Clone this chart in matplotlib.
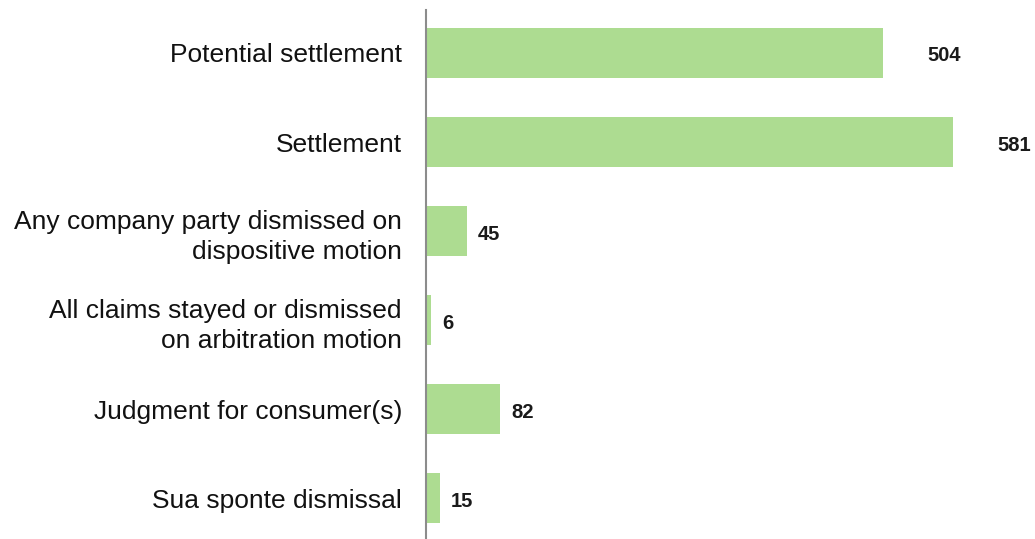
import matplotlib.pyplot as plt

plt.rcParams['font.family'] = ['Liberation Sans', 'DejaVu Sans']

kategorije = ['Potential settlement',
              'Settlement',
              'Any company party dismissed on\ndispositive motion',
              'All claims stayed or dismissed\non arbitration motion',
              'Judgment for consumer(s)',
              'Sua sponte dismissal']
vrijednosti = [504, 581, 45, 6, 82, 15]

fig = plt.figure(figsize=(10.35, 5.39), dpi=100)
ax = fig.add_axes([426/1035, 0, 609/1035, 529/539])

y = range(len(kategorije))
ax.barh(y, vrijednosti, height=0.56, color='#addc91', zorder=2)

ax.set_xlim(0, 609/0.907)
ax.set_ylim(5.46, -0.483)

for i, v in enumerate(vrijednosti):
    pomak = 44 if v > 300 else 11
    ax.annotate(str(v), xy=(v, i), xytext=(pomak, -3), textcoords='offset pixels',
                ha='left', va='center', fontsize=14.5, fontweight='bold', color='#1a1a1a')

ax.set_yticks(list(y))
ax.set_yticklabels(kategorije, fontsize=19, color='#111111', linespacing=1.32)
ax.tick_params(axis='y', length=0, pad=17.3)
ax.set_xticks([])

for s in ['top', 'right', 'bottom']:
    ax.spines[s].set_visible(False)
ax.spines['left'].set_color('#8c8c8c')
ax.spines['left'].set_linewidth(1.5)

fig.savefig('out.png', dpi=100)
